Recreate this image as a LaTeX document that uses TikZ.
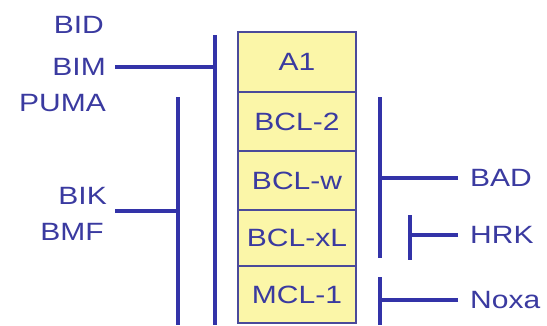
\documentclass[tikz,border=0pt]{standalone}
\usepackage{fontspec}
\usepackage{xcolor}
\usepackage{tikz}
\usetikzlibrary{positioning}
\newfontfamily\labfont[FakeStretch=1.2]{Liberation Sans}
\definecolor{ink}{HTML}{3333A8}
\definecolor{txt}{HTML}{3A3AA0}
\definecolor{edge}{HTML}{4A4A9A}
\definecolor{pale}{HTML}{FBF6A8}
\tikzset{
  bar/.style={draw=ink, line width=3.4pt},
  prot/.style={draw=edge, fill=pale, line width=2pt, minimum width=118pt,
    minimum height=59pt, inner sep=0pt, outer sep=0pt, text=txt,
    font=\labfont\fontsize{25}{30}\selectfont},
  lab/.style={text=txt, inner sep=0pt, font=\labfont\fontsize{25}{30}\selectfont}
}
\begin{document}
\begin{tikzpicture}[x=1pt,y=1pt]
  \useasboundingbox (0,0) rectangle (547,325);

  % anti-apoptotic stack
  \node[prot, anchor=north west, minimum height=60pt] (a1) at (238,293) {A1};
  \node[prot, below=0pt of a1] (bcl2) {BCL-2};
  \node[prot, below=0pt of bcl2] (bclw) {BCL-w};
  \node[prot, below=0pt of bclw, minimum height=56pt] (bclxl) {BCL-xL};
  \node[prot, below=0pt of bclxl, minimum height=57pt] (mcl1) {MCL-1};

  % left side
  \node[lab, anchor=east] (bid) at (104,300) {BID};
  \node[lab, anchor=east] (bim) at (106,258) {BIM};
  \node[lab, anchor=east] (puma) at (106,222) {PUMA};
  \node[lab, anchor=east] (bik) at (107,129) {BIK};
  \node[lab, anchor=east] (bmf) at (104,93) {BMF};

  \coordinate (outtop) at (215,290);
  \coordinate (outbot) at (215,0);
  \coordinate (intop) at (178,228);
  \coordinate (inbot) at (178,0);
  \coordinate (bikend) at (115,114);

  \draw[bar] (outtop) -- (outbot);
  \draw[bar] ([xshift=9pt]bim.east) -- (bim.east -| outtop);
  \draw[bar] (intop) -- (inbot);
  \draw[bar] (bikend) -- (bikend -| intop);

  % right side
  \node[lab, anchor=west] (bad) at (470,147) {BAD};
  \node[lab, anchor=west] (hrk) at (470,90) {HRK};
  \node[lab, anchor=west] (noxa) at (470,25) {Noxa};

  \coordinate (badtop) at (380,228);
  \coordinate (badbot) at (380,67);
  \coordinate (hrktop) at (410,110);
  \coordinate (hrkbot) at (410,65);
  \coordinate (noxatop) at (380,48);
  \coordinate (noxabot) at (380,0);

  \draw[bar] (badtop) -- (badbot);
  \draw[bar] ([xshift=-12pt]bad.west) -- (bad.west -| badtop);
  \draw[bar] (hrktop) -- (hrkbot);
  \draw[bar] ([xshift=-12pt]hrk.west) -- (hrk.west -| hrktop);
  \draw[bar] (noxatop) -- (noxabot);
  \draw[bar] ([xshift=-12pt]noxa.west) -- (noxa.west -| noxatop);
\end{tikzpicture}
\end{document}
